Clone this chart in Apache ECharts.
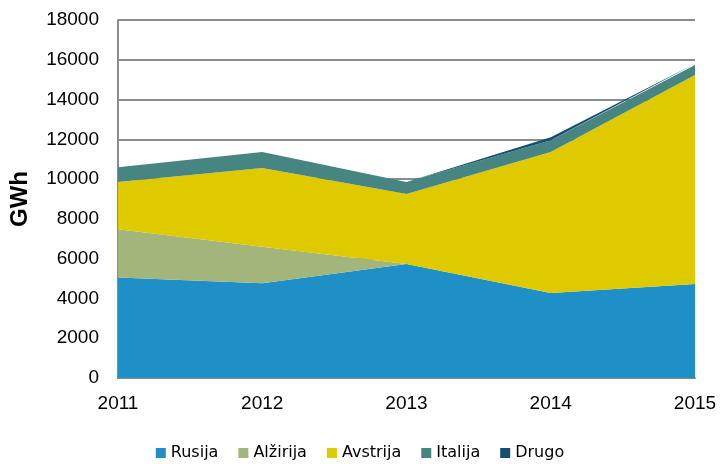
<html>
<head>
<meta charset="utf-8">
<title>GWh</title>
<script src="https://cdn.jsdelivr.net/npm/echarts@6/dist/echarts.min.js"></script>
</head>
<body style="margin:0;background:#fff">
<div id="main" style="width:720px;height:464px;"></div>
<script>
var years = ['2011', '2012', '2013', '2014', '2015'];
var rusija = [5050, 4760, 5730, 4270, 4730];
var alzirija = [2430, 1840, 0, 0, 0];
var avstrija = [2370, 3960, 3520, 7090, 10500];
var italija = [750, 800, 600, 600, 510];
var drugo = [0, 0, 0, 140, 60];

var names = ['Rusija', 'Alžirija', 'Avstrija', 'Italija', 'Drugo'];
var colors = ['#1f8fc8', '#a2b57b', '#dfca00', '#478582', '#134f6e'];
var values = [rusija, alzirija, avstrija, italija, drugo];

var chart = echarts.init(document.getElementById('main'));
var series = [];
for (var i = 0; i < names.length; i++) {
    series.push({
        name: names[i],
        type: 'line',
        stack: 'total',
        showSymbol: false,
        lineStyle: {width: 0},
        areaStyle: {color: colors[i], opacity: 1},
        itemStyle: {color: colors[i]},
        data: values[i]
    });
}

chart.setOption({
    animation: false,
    textStyle: {fontFamily: 'Liberation Sans'},
    grid: {left: 118, right: 25, top: 20, bottom: 86, containLabel: false, outerBoundsMode: 'none'},
    legend: {
        bottom: 3,
        padding: 0,
        left: 'center',
        itemWidth: 10,
        itemHeight: 10,
        itemGap: 20,
        icon: 'rect',
        textStyle: {fontSize: 16, color: '#000', fontFamily: 'DejaVu Sans'},
        data: names
    },
    xAxis: {
        type: 'category',
        boundaryGap: false,
        data: years,
        axisLine: {lineStyle: {color: '#8c8c8c', width: 2}},
        axisTick: {show: false},
        axisLabel: {color: '#000', fontSize: 19, margin: 16}
    },
    yAxis: {
        type: 'value',
        min: 0,
        max: 18000,
        interval: 2000,
        name: 'GWh',
        nameLocation: 'middle',
        nameGap: 86,
        nameTextStyle: {fontSize: 24, fontWeight: 'bold', color: '#000'},
        axisLine: {show: true, lineStyle: {color: '#8c8c8c', width: 2}},
        axisTick: {show: false},
        splitLine: {lineStyle: {color: '#8c8c8c', width: 2}},
        axisLabel: {color: '#000', fontSize: 19, margin: 19, formatter: function (v) { return String(v); }}
    },
    series: series
});
</script>
</body>
</html>
